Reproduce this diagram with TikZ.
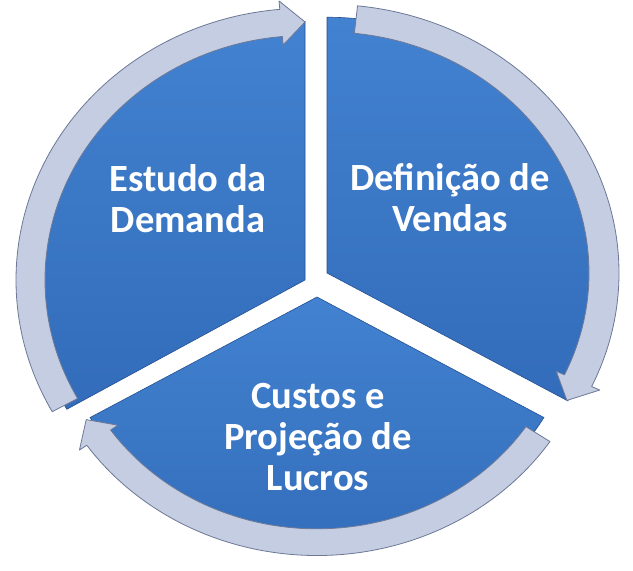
\documentclass[tikz,border=0pt]{standalone}
\usepackage{fontspec}
\setmainfont{Carlito}
\usepackage{xcolor}
\usepackage{tikz}

\definecolor{setorTopo}{RGB}{66,130,208}
\definecolor{setorBase}{RGB}{50,108,186}
\definecolor{setorBorda}{RGB}{36,80,145}
\definecolor{anelCor}{RGB}{196,205,226}
\definecolor{anelBorda}{RGB}{108,120,150}

\tikzset{
	setor/.style={top color=setorTopo, bottom color=setorBase, draw=setorBorda, line width=0.6pt},
	anel/.style={fill=anelCor, draw=anelBorda, line width=0.8pt, line join=round},
	rotulo/.style={text=white, align=center, font=\fontsize{38.5}{41}\selectfont\bfseries}
}

\begin{document}
\begin{tikzpicture}[x=1pt,y=1pt]
			\useasboundingbox (0,0) rectangle (633,571);
			% Setores
			\foreach \cx/\cy/\ys/\a/\b/\rs in {305/291/0.94/90/210/275, 327/298/0.92/-30/90/278, 317/274/0.92/210/330/262}
			\draw [setor,shift={(\cx,\cy)},yscale=\ys] (0,0) -- (\a:\rs) arc [start angle=\a, end angle=\b, radius=\rs] -- cycle;
			% Setas em volta
			\foreach \cx/\cy/\ys/\ri/\ro/\cauda/\base/\ponta in {305/291/0.94/260/289/209/95/90, 327/298/0.92/262/292/84/-25/-30, 317/274/0.92/252/281/326/215/210}
			\draw [anel,shift={(\cx,\cy)},yscale=\ys] (\cauda:\ro) arc [start angle=\cauda, end angle=\base, radius=\ro]
				-- (\base:\ro+9) -- (\ponta:\ri/2+\ro/2) -- (\base:\ri-9) -- (\base:\ri)
				arc [start angle=\base, end angle=\cauda, radius=\ri] -- cycle;
			% Textos
			\node [rotulo] (estudo) at (188,372) {Estudo da\\Demanda};
			\node [rotulo] (definicao) at (450,373) {Definição de\\Vendas};
			\node [rotulo] (custos) at (318,134) {Custos e\\Projeção de\\Lucros};
		\end{tikzpicture}
\end{document}
